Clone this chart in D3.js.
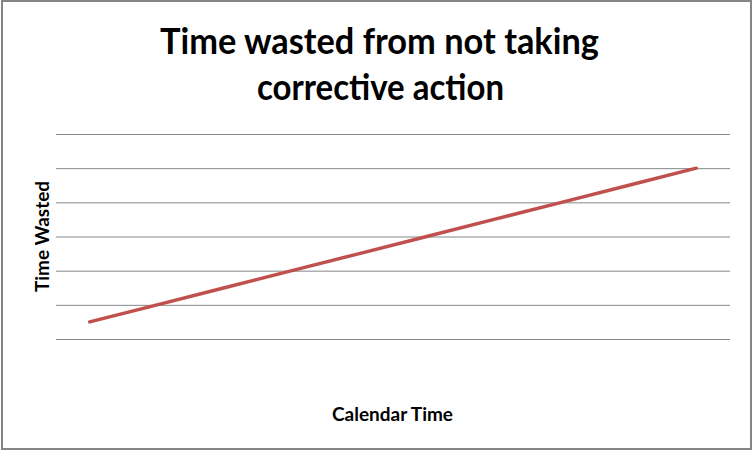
<!DOCTYPE html>
<html>
<head>
<meta charset="utf-8">
<script src="https://cdn.jsdelivr.net/npm/d3@7"></script>
<style>
  html, body { margin: 0; padding: 0; background: #fff; }
  svg { display: block; }
</style>
</head>
<body>
<svg id="chart" width="753" height="451"></svg>
<script>
// chart data
const categories = [1, 2, 3, 4, 5, 6, 7, 8, 9, 10];
const timeWasted = [0.5, 1, 1.5, 2, 2.5, 3, 3.5, 4, 4.5, 5];
const yTicks = [0, 1, 2, 3, 4, 5, 6];
const titleLines = ['Time wasted from not taking', 'corrective action'];

const FONT = 'Lato, "Open Sans", sans-serif';

const svg = d3.select('#chart');

// outer chart border
svg.append('rect')
  .attr('x', 2)
  .attr('y', 1)
  .attr('width', 749)
  .attr('height', 448)
  .style('fill', '#fff')
  .style('stroke', '#858585')
  .style('stroke-width', 2);

const plot = { left: 56, right: 730, top: 134, bottom: 339 };

const x = d3.scaleBand()
  .domain(categories)
  .range([plot.left, plot.right])
  .padding(0);

const y = d3.scaleLinear()
  .domain([0, 6])
  .range([plot.bottom, plot.top]);

// horizontal gridlines, no tick labels
svg.append('g')
  .attr('transform', `translate(${plot.left},0)`)
  .call(d3.axisLeft(y).tickValues(yTicks).tickSize(-(plot.right - plot.left)).tickFormat(''))
  .call((g) => g.select('.domain').remove())
  .call((g) => g.selectAll('.tick line').style('stroke', '#868686').style('stroke-width', 1));

// the series line
const line = d3.line()
  .x((d, i) => x(categories[i]) + x.bandwidth() / 2)
  .y((d) => y(d));

svg.append('path')
  .datum(timeWasted)
  .attr('d', line)
  .style('fill', 'none')
  .style('stroke', '#C0504D')
  .style('stroke-width', 3.5)
  .style('stroke-linecap', 'round');

// title, two lines
const titleSpecs = [
  { x: 160, y: 54, len: 439 },
  { x: 257, y: 100, len: 247 },
];
titleLines.forEach((txt, i) => {
  svg.append('text')
    .attr('x', titleSpecs[i].x)
    .attr('y', titleSpecs[i].y)
    .attr('textLength', titleSpecs[i].len)
    .attr('lengthAdjust', 'spacingAndGlyphs')
    .style('font-family', FONT)
    .style('font-weight', 700)
    .style('font-size', '36px')
    .style('fill', '#000')
    .text(txt);
});

// axis titles
svg.append('text')
  .attr('x', 332)
  .attr('y', 421)
  .attr('textLength', 121)
  .attr('lengthAdjust', 'spacingAndGlyphs')
  .style('font-family', FONT)
  .style('font-weight', 700)
  .style('font-size', '19px')
  .style('fill', '#000')
  .text('Calendar Time');

svg.append('text')
  .attr('transform', 'translate(49,292) rotate(-90)')
  .attr('textLength', 111)
  .attr('lengthAdjust', 'spacingAndGlyphs')
  .style('font-family', FONT)
  .style('font-weight', 700)
  .style('font-size', '19px')
  .style('fill', '#000')
  .text('Time Wasted');
</script>
</body>
</html>
